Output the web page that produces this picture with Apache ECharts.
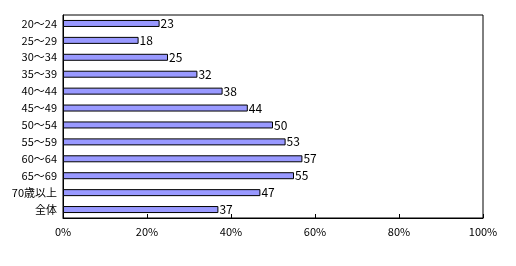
<!DOCTYPE html>
<html><head><meta charset="utf-8">
<script src="https://cdn.jsdelivr.net/npm/echarts@6/dist/echarts.min.js"></script>
<style>html,body{margin:0;padding:0;background:#fff}#c{width:516px;height:266px}</style>
</head><body><div id="c"></div>
<script>
const categories = ['20～24','25～29','30～34','35～39','40～44','45～49','50～54','55～59','60～64','65～69','70歳以上','全体'];
const values = [23,18,25,32,38,44,50,53,57,55,47,37];
const xTicks = [0,20,40,60,80,100];

const chart = echarts.init(document.getElementById('c'), null, {renderer:'canvas'});
const font = '"Noto Sans CJK JP", "DejaVu Sans", sans-serif';
chart.setOption({
  animation:false,
  textStyle:{fontFamily:font},
  grid:{left:63,right:33,top:15,height:203,show:true,borderColor:'#000',borderWidth:1,backgroundColor:'#fff',containLabel:false},
  xAxis:{type:'value',min:xTicks[0],max:xTicks[xTicks.length-1],interval:20,
    axisLine:{show:true,lineStyle:{color:'#000',width:1}},
    axisTick:{show:true,inside:true,length:4,lineStyle:{color:'#000'}},
    splitLine:{show:false},
    axisLabel:{formatter:'{value}%',color:'#000',fontSize:11,margin:8,fontFamily:font}},
  yAxis:{type:'category',data:categories,inverse:true,
    axisLine:{show:true,lineStyle:{color:'#000',width:1}},
    axisTick:{show:false},
    axisLabel:{color:'#000',fontSize:11,margin:6,fontFamily:font}},
  series:[{type:'bar',data:values,barWidth:7,
    itemStyle:{color:'#9999FF',borderColor:'#000',borderWidth:1},
    label:{show:true,position:'right',distance:1,color:'#000',fontSize:12,fontFamily:font}}]
});
</script></body></html>
